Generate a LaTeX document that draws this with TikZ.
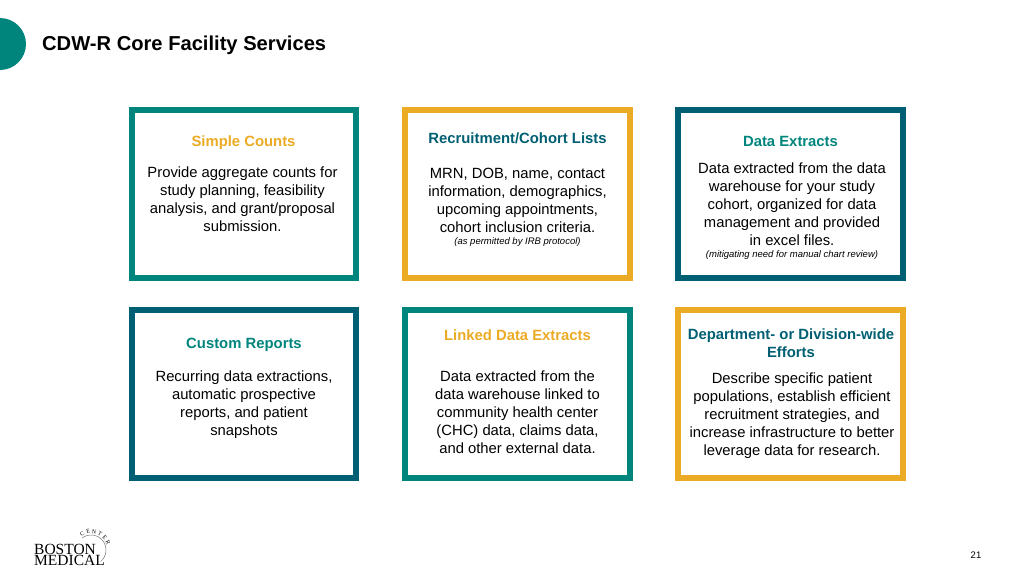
\documentclass[tikz,border=0pt]{standalone}
\usepackage{fontspec}
\setmainfont{Liberation Sans}
\newfontfamily\logofont{Liberation Serif}
\definecolor{teal1}{HTML}{00857C}
\definecolor{blue1}{HTML}{005F72}
\definecolor{gold1}{HTML}{EBAB24}
\tikzset{
  card/.style={rectangle,draw=#1,line width=6pt,minimum width=224.5pt,minimum height=168pt,inner sep=0pt},
  head/.style={align=center,font=\fontsize{14.85}{17.5}\selectfont\bfseries,text=#1,inner sep=0pt},
  body/.style={align=center,font=\fontsize{14.8}{18}\selectfont,text=black,inner sep=0pt},
  note/.style={align=center,font=\fontsize{9.5}{11}\selectfont\itshape,text=black,inner sep=0pt}
}
\begin{document}
\begin{tikzpicture}[x=1pt,y=-1pt]
\useasboundingbox (0,0) rectangle (1024,576);
\fill[teal1] (0,44) circle (26);
\path (42,45.5) node[anchor=west,inner sep=0pt,font=\fontsize{20.15}{24}\selectfont\bfseries] (title) {CDW-R Core Facility Services};
% top row
\path (244,194) node[card=teal1] (counts) {};
\path (243.5,143) node[head=gold1] (countshead) {Simple Counts};
\path (242.5,199.5) node[body] (countsbody) {Provide aggregate counts for\\study planning, feasibility\\analysis, and grant/proposal\\submission.};
\path (517.5,194) node[card=gold1] (cohort) {};
\path (517.5,138.5) node[head=blue1] (cohorthead) {Recruitment/Cohort Lists};
\path (517.5,200) node[body] (cohortbody) {MRN, DOB, name, contact\\information, demographics,\\upcoming appointments,\\cohort inclusion criteria.};
\path (517.5,242) node[note] (cohortnote) {(as permitted by IRB protocol)};
\path (790.5,194) node[card=blue1] (extracts) {};
\path (790.5,141) node[head=teal1] (extractshead) {Data Extracts};
\path (792,204) node[body] (extractsbody) {Data extracted from the data\\warehouse for your study\\cohort, organized for data\\management and provided\\in excel files.};
\path (792,255) node[note] (extractsnote) {(mitigating need for manual chart review)};
% bottom row
\path (244,394) node[card=blue1] (custom) {};
\path (244,344.5) node[head=teal1] (customhead) {Custom Reports};
\path (244,404.5) node[body] (custombody) {Recurring data extractions,\\automatic prospective\\reports, and patient\\snapshots};
\path (517.5,394) node[card=teal1] (linked) {};
\path (517.5,335) node[head=gold1] (linkedhead) {Linked Data Extracts};
\path (517.5,412) node[body] (linkedbody) {Data extracted from the\\data warehouse linked to\\community health center\\(CHC) data, claims data,\\and other external data.};
\path (790.5,394) node[card=gold1] (dept) {};
\path (791,343) node[head=blue1] (depthead) {Department- or Division-wide\\Efforts};
\path (792,416) node[body] (deptbody) {Describe specific patient\\populations, establish efficient\\recruitment strategies, and\\increase infrastructure to better\\leverage data for research.};
% logo
\draw[black!55,line width=.5pt] (82,538) arc[start angle=-127,end angle=50,radius=15];
\path (34,549.5) node[anchor=west,inner sep=0pt,font=\logofont\fontsize{15.5}{16}\selectfont] (boston) {BOSTON};
\path (34,560.5) node[anchor=west,inner sep=0pt,font=\logofont\fontsize{15.5}{16}\selectfont] (medical) {MEDICAL};
\foreach \ltr/\ang/\rot in {C/-118/28,E/-99/9,N/-80/-10,T/-61/-29,E/-42/-48,R/-23/-67}
  \path (91,550) ++(\ang:18.5) node[rotate=\rot,inner sep=0pt,font=\logofont\fontsize{6}{6}\selectfont] {\ltr};
\path (976,555) node[inner sep=0pt,font=\fontsize{9.5}{11}\selectfont] (page) {21};
\end{tikzpicture}
\end{document}
